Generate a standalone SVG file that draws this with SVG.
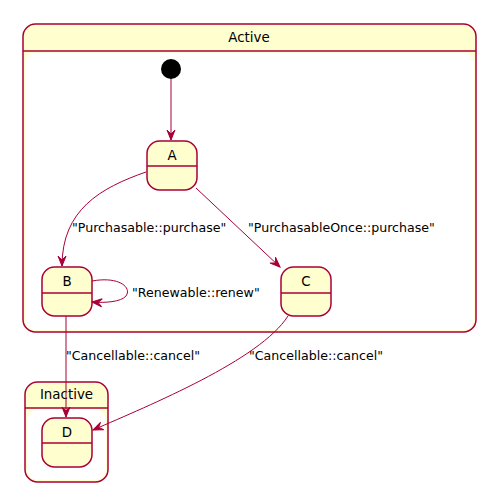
<svg xmlns="http://www.w3.org/2000/svg" width="487" height="493" viewBox="0 0 487 493">
<style>
.st{fill:#FEFECE;stroke:#A80036;stroke-width:1.5}
.ln{stroke:#A80036;stroke-width:1.5}
.inner{fill:#FFFFFF;stroke:none}
.edge{fill:none;stroke:#A80036;stroke-width:1}
.t{font-family:"DejaVu Sans",sans-serif;font-size:13.4px;fill:#000;text-anchor:middle}
.lbl{font-family:"DejaVu Sans",sans-serif;font-size:12.6px;fill:#000}
</style>
<defs>
<marker id="arr" viewBox="-11 -6 12 12" refX="0" refY="0" markerWidth="12" markerHeight="12" markerUnits="userSpaceOnUse" orient="auto">
<path d="M0,0 L-10,-4 L-6,0 L-10,4 Z" fill="#A80036" stroke="#A80036" stroke-width="1"/>
</marker>
</defs>
<rect width="487" height="493" fill="#FFFFFF"/>
<g id="Active">
<rect class="st" x="23" y="24" width="453" height="308" rx="12.5"/>
<line class="ln" x1="23" y1="51" x2="476" y2="51"/>
<rect class="inner" x="25" y="52.5" width="449" height="277.5" rx="11"/>
<text class="t" x="249" y="42">Active</text>
</g>
<g id="Inactive">
<rect class="st" x="25" y="382" width="83" height="100" rx="12.5"/>
<line class="ln" x1="25" y1="408" x2="108" y2="408"/>
<rect class="inner" x="27" y="409.5" width="79" height="70.5" rx="11"/>
<text class="t" x="66.5" y="399">Inactive</text>
</g>
<g id="start">
<circle cx="171" cy="69" r="10" fill="#000"/>
</g>
<g id="A">
<rect class="st" x="147" y="141" width="50" height="49" rx="12.5"/>
<line class="ln" x1="147" y1="166" x2="197" y2="166"/>
<text class="t" x="172" y="160">A</text>
</g>
<g id="B">
<rect class="st" x="42" y="267" width="50" height="49" rx="12.5"/>
<line class="ln" x1="42" y1="293" x2="92" y2="293"/>
<text class="t" x="67" y="286">B</text>
</g>
<g id="C">
<rect class="st" x="281" y="267" width="50" height="49" rx="12.5"/>
<line class="ln" x1="281" y1="293" x2="331" y2="293"/>
<text class="t" x="306" y="286">C</text>
</g>
<g id="D">
<rect class="st" x="42" y="418" width="50" height="49" rx="12.5"/>
<line class="ln" x1="42" y1="443" x2="92" y2="443"/>
<text class="t" x="67" y="437">D</text>
</g>
<g id="connectors">
<path class="edge" d="M171,79 L171,140" marker-end="url(#arr)"/>
<path class="edge" d="M146,172 C100,188 62,210 62,266" marker-end="url(#arr)"/>
<path class="edge" d="M196,188 L280,267" marker-end="url(#arr)"/>
<path class="edge" d="M92,281 C120,276 132,288 126,296 C121,302 105,303 92,302" marker-end="url(#arr)"/>
<path class="edge" d="M66,316 L66,417" marker-end="url(#arr)"/>
<path class="edge" d="M288,316 C260,360 150,405 93,430" marker-end="url(#arr)"/>
<text class="lbl" x="72" y="232">"Purchasable::purchase"</text>
<text class="lbl" x="248" y="232">"PurchasableOnce::purchase"</text>
<text class="lbl" x="132" y="297">"Renewable::renew"</text>
<text class="lbl" x="66" y="360">"Cancellable::cancel"</text>
<text class="lbl" x="249" y="360">"Cancellable::cancel"</text>
</g>
</svg>
